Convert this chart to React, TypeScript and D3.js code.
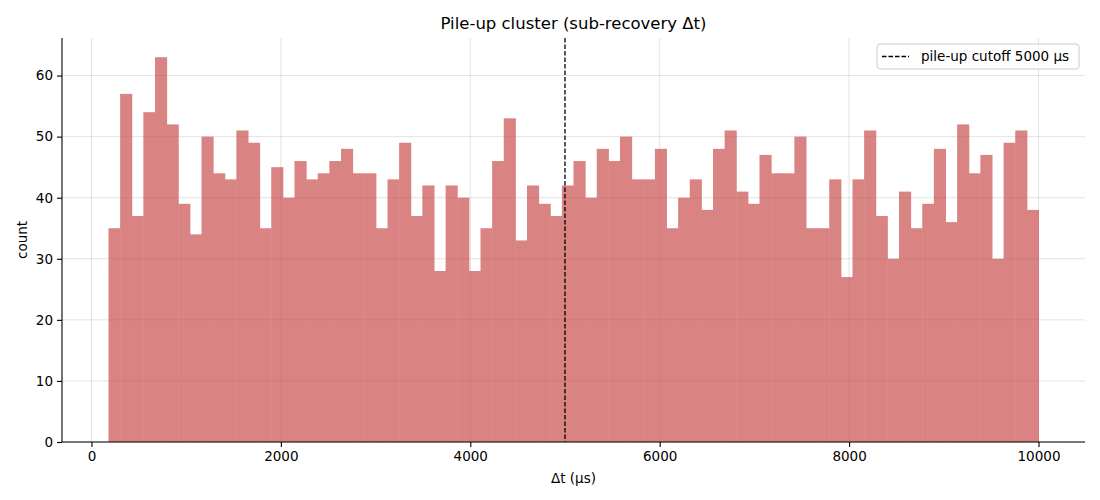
import { useEffect, useRef } from "react";
import * as d3 from "d3";

// counts per bin (80 equal bins from binLo to binHi)
const counts = [
  35, 57, 37, 54, 63, 52, 39, 34, 50, 44, 43, 51, 49, 35, 45, 40, 46, 43, 44, 46,
  48, 44, 44, 35, 43, 49, 37, 42, 28, 42, 40, 28, 35, 46, 53, 33, 42, 39, 37, 42,
  46, 40, 48, 46, 50, 43, 43, 48, 35, 40, 43, 38, 48, 51, 41, 39, 47, 44, 44, 50,
  35, 35, 43, 27, 43, 51, 37, 30, 41, 35, 39, 48, 36, 52, 44, 47, 30, 49, 51, 38,
];
const binLo = 180;
const binHi = 10000;
const cutoff = 5000;
const xTicks = [0, 2000, 4000, 6000, 8000, 10000];
const yTicks = [0, 10, 20, 30, 40, 50, 60];
const titulo = "Pile-up cluster (sub-recovery Δt)";
const etiquetaX = "Δt (µs)";
const etiquetaY = "count";
const leyenda = `pile-up cutoff ${cutoff} µs`;

const ANCHO = 1100;
const ALTO = 500;
const FUENTE = "DejaVu Sans, sans-serif";

export default function App() {
  const svgRef = useRef<SVGSVGElement>(null);

  useEffect(() => {
    document.body.style.margin = "0";
    if (!svgRef.current) return;
    const svg = d3.select(svgRef.current);
    svg.selectAll("*").remove();

    const margen = { top: 38, right: 15, bottom: 58, left: 62 };
    const w = ANCHO - margen.left - margen.right;
    const h = ALTO - margen.top - margen.bottom;

    const n = counts.length;
    const ancho = (binHi - binLo) / n;
    const bins = counts.map((c, i) => ({ x0: binLo + i * ancho, x1: binLo + (i + 1) * ancho, c }));

    const pad = (binHi - binLo) * 0.05;
    const x = d3.scaleLinear().domain([binLo - pad, binHi + pad]).range([0, w]);
    const maxC = d3.max(counts) || 1;
    const y = d3.scaleLinear().domain([0, maxC * 1.05]).range([h, 0]);

    const g = svg.append("g").attr("transform", `translate(${margen.left},${margen.top})`);

    // rejilla
    g.append("g")
      .selectAll("line")
      .data(xTicks)
      .enter()
      .append("line")
      .attr("x1", (d) => x(d))
      .attr("x2", (d) => x(d))
      .attr("y1", 0)
      .attr("y2", h)
      .attr("stroke", "#b0b0b0")
      .attr("stroke-opacity", 0.35)
      .attr("stroke-width", 1);
    g.append("g")
      .selectAll("line")
      .data(yTicks)
      .enter()
      .append("line")
      .attr("x1", 0)
      .attr("x2", w)
      .attr("y1", (d) => y(d))
      .attr("y2", (d) => y(d))
      .attr("stroke", "#b0b0b0")
      .attr("stroke-opacity", 0.35)
      .attr("stroke-width", 1);

    // barras: opacidad en el grupo para que no se vean costuras entre barras
    g.append("g")
      .attr("opacity", 0.7)
      .selectAll("rect")
      .data(bins)
      .enter()
      .append("rect")
      .attr("x", (d) => x(d.x0))
      .attr("width", (d) => x(d.x1) - x(d.x0) + 0.5)
      .attr("y", (d) => y(d.c))
      .attr("height", (d) => h - y(d.c))
      .attr("fill", "#c94f4f");

    // corte
    g.append("line")
      .attr("x1", x(cutoff))
      .attr("x2", x(cutoff))
      .attr("y1", 0)
      .attr("y2", h)
      .attr("stroke", "#000")
      .attr("stroke-width", 1.3)
      .attr("stroke-dasharray", "4.5,2");

    // ejes
    const ejeX = g
      .append("g")
      .attr("transform", `translate(0,${h})`)
      .call(d3.axisBottom(x).tickValues(xTicks).tickFormat(d3.format("d")).tickSize(5).tickPadding(4));
    const ejeY = g
      .append("g")
      .call(d3.axisLeft(y).tickValues(yTicks).tickFormat(d3.format("d")).tickSize(5).tickPadding(4));
    for (const eje of [ejeX, ejeY]) {
      eje.select(".domain").attr("stroke", "#000").attr("stroke-width", 1.1);
      eje.selectAll(".tick line").attr("stroke", "#000").attr("stroke-width", 1.1);
      eje.selectAll(".tick text").attr("fill", "#000").attr("font-size", 13.5).attr("font-family", FUENTE);
    }
    // quitar los extremos que dibuja d3 en la línea de dominio
    ejeX.select(".domain").attr("d", `M0,0H${w}`);
    ejeY.select(".domain").attr("d", `M0,${h}V0`);

    // leyenda
    const ley = g.append("g").attr("transform", `translate(${w - 208},6)`);
    ley
      .append("rect")
      .attr("width", 202)
      .attr("height", 25)
      .attr("rx", 3)
      .attr("fill", "#fff")
      .attr("fill-opacity", 0.8)
      .attr("stroke", "#cccccc");
    ley
      .append("line")
      .attr("x1", 5)
      .attr("x2", 32)
      .attr("y1", 12.5)
      .attr("y2", 12.5)
      .attr("stroke", "#000")
      .attr("stroke-width", 1.3)
      .attr("stroke-dasharray", "4.5,2");
    ley
      .append("text")
      .attr("x", 44)
      .attr("y", 12.5)
      .attr("dy", "0.35em")
      .attr("font-size", 13.5)
      .attr("font-family", FUENTE)
      .attr("fill", "#000")
      .text(leyenda);

    // textos
    svg
      .append("text")
      .attr("x", margen.left + w / 2)
      .attr("y", 23)
      .attr("dy", "0.35em")
      .attr("text-anchor", "middle")
      .attr("font-size", 16.5)
      .attr("font-family", FUENTE)
      .attr("fill", "#000")
      .text(titulo);
    svg
      .append("text")
      .attr("x", margen.left + w / 2)
      .attr("y", 478)
      .attr("dy", "0.35em")
      .attr("text-anchor", "middle")
      .attr("font-size", 13.5)
      .attr("font-family", FUENTE)
      .attr("fill", "#000")
      .text(etiquetaX);
    svg
      .append("text")
      .attr("transform", `translate(22,${margen.top + h / 2}) rotate(-90)`)
      .attr("dy", "0.35em")
      .attr("text-anchor", "middle")
      .attr("font-size", 13.5)
      .attr("font-family", FUENTE)
      .attr("fill", "#000")
      .text(etiquetaY);
  }, []);

  return <svg ref={svgRef} width={ANCHO} height={ALTO} viewBox={`0 0 ${ANCHO} ${ALTO}`} style={{ display: "block", background: "#fff" }} />;
}
